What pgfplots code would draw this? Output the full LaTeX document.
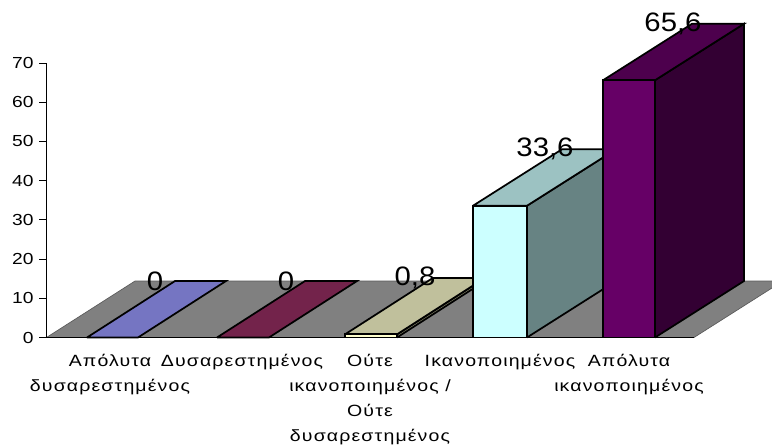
\documentclass[border=0pt]{standalone}
\usepackage{fontspec}
\usepackage{pgfplots}
\pgfplotsset{compat=1.18}
\setmainfont{Liberation Sans}
\newfontfamily\catfont[FakeStretch=1.2,LetterSpace=7]{Liberation Sans}
\newfontfamily\numfont[FakeStretch=1.2]{Liberation Sans}
\newfontfamily\valfont[FakeStretch=1.1]{Liberation Sans}
\definecolor{floorgray}{RGB}{128,128,128}
\definecolor{aTop}{RGB}{117,117,194}
\definecolor{bTop}{RGB}{115,35,75}
\definecolor{cFront}{RGB}{255,255,204}
\definecolor{cTop}{RGB}{192,192,156}
\definecolor{cSide}{RGB}{130,130,105}
\definecolor{dFront}{RGB}{204,255,255}
\definecolor{dTop}{RGB}{156,194,194}
\definecolor{dSide}{RGB}{103,131,131}
\definecolor{eFront}{RGB}{102,0,102}
\definecolor{eTop}{RGB}{77,0,77}
\definecolor{eSide}{RGB}{51,0,51}
\pgfplotstableread{
x y lab
155 14.4 0
286 14.4 0
415 15.2 0,8
545 48.0 33,6
673 80.0 65,6
}\vallabels
\begin{document}
\begin{tikzpicture}
\begin{axis}[
    at={(0,0)}, anchor=south west,
    scale only axis,
    width=485.625pt, height=205.875pt,
    xmin=46.5, xmax=694,
    ymin=0, ymax=70,
    clip=false,
    axis on top,
    axis x line*=bottom,
    axis y line*=left,
    ytick={0,10,...,70},
    xtick={110,242,370,500,629},
    xticklabels={Απόλυτα\\δυσαρεστημένος,Δυσαρεστημένος,Ούτε\\ικανοποιημένος /\\Ούτε\\δυσαρεστημένος,Ικανοποιημένος,Απόλυτα\\ικανοποιημένος},
    x tick label style={align=center, font=\catfont\fontsize{12.2pt}{18.8pt}\selectfont, yshift=-3.6pt},
    y tick label style={font=\numfont\fontsize{12pt}{13pt}\selectfont, xshift=-1pt},
    /pgf/number format/assume math mode=true,
    xtick style={draw=none},
    ytick style={black},
    tick align=outside,
    major tick length=5.25pt,
    axis line style={black, line width=0.75pt},
    tick style={line width=0.75pt},
    every axis plot/.append style={line width=1.3pt, draw=black, line join=miter},
]
% floor
\addplot[fill=floorgray, draw=floorgray!70!black, line width=0.5pt] coordinates {(46.5,0) (135,14.4) (783,14.4) (694,0) (46.5,0)};
% bar 1, value 0
\addplot[fill=aTop] coordinates {(87,0) (175,14.4) (226,14.4) (138,0) (87,0)};
% bar 2, value 0
\addplot[fill=bTop] coordinates {(217,0) (305,14.4) (357,14.4) (269,0) (217,0)};
% bar 3, value 0.8
\addplot[fill=cSide] coordinates {(397,0) (485,14.4) (485,15.2) (397,0.8) (397,0)};
\addplot[fill=cTop] coordinates {(345,0.8) (433,15.2) (485,15.2) (397,0.8) (345,0.8)};
\addplot[fill=cFront] coordinates {(345,0) (345,0.8) (397,0.8) (397,0) (345,0)};
% bar 4, value 33.6
\addplot[fill=dSide] coordinates {(527,0) (616,14.4) (616,48) (527,33.6) (527,0)};
\addplot[fill=dTop] coordinates {(473,33.6) (562,48) (616,48) (527,33.6) (473,33.6)};
\addplot[fill=dFront] coordinates {(473,0) (473,33.6) (527,33.6) (527,0) (473,0)};
% bar 5, value 65.6
\addplot[fill=eSide] coordinates {(655,0) (744,14.4) (744,80) (655,65.6) (655,0)};
\addplot[fill=eTop] coordinates {(603,65.6) (692,80) (744,80) (655,65.6) (603,65.6)};
\addplot[fill=eFront] coordinates {(603,0) (603,65.6) (655,65.6) (655,0) (603,0)};
% value labels
\addplot[draw=none, mark=none, nodes near coords, point meta=explicit symbolic,
    nodes near coords style={anchor=center, inner sep=0pt, black, font=\valfont\fontsize{20pt}{22pt}\selectfont}]
    table[x=x, y=y, meta=lab] {\vallabels};
\end{axis}
\pgfresetboundingbox
\path[use as bounding box] (-34.875pt,-80.625pt) rectangle (544.125pt,253.125pt);
\end{tikzpicture}
\end{document}
